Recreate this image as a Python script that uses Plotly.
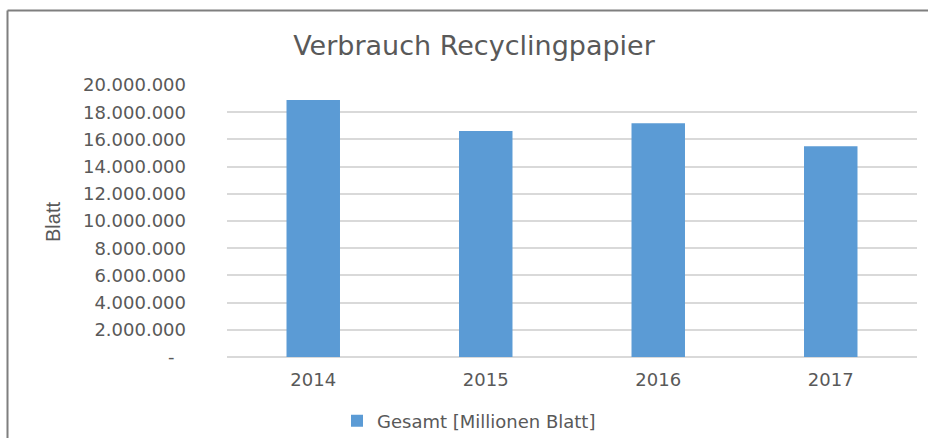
import plotly.graph_objects as go

# ---- data ----
years = ["2014", "2015", "2016", "2017"]
gesamt_blatt = [18900000, 16620000, 17180000, 15490000]
series_name = "Gesamt [Millionen Blatt]"
y_tickvals = [0, 2000000, 4000000, 6000000, 8000000, 10000000,
              12000000, 14000000, 16000000, 18000000, 20000000]
title_text = "Verbrauch Recyclingpapier"
y_title = "Blatt"

# ---- layout geometry ----
W, H = 928, 438
ML, MR, MT, MB = 227, 11, 85, 81
PW, PH = W - ML - MR, H - MT - MB


def px_x(x):
    return (x - ML) / PW


def px_y(y):
    return (H - MB - y) / PH


def fmt(v):
    return "-\u00a0\u00a0" if v == 0 else f"{v:,}".replace(",", ".")


y_ticktext = [fmt(v) for v in y_tickvals]

TEXT = "#595959"
GRID = "#D9D9D9"
BAR = "#5B9BD5"
FONT = "DejaVu Sans"

fig = go.Figure(
    go.Bar(
        x=years,
        y=gesamt_blatt,
        name=series_name,
        marker=dict(color=BAR, line=dict(width=0)),
        showlegend=True,
    )
)

fig.update_layout(
    width=W,
    height=H,
    margin=dict(l=ML, r=MR, t=MT, b=MB, pad=0, autoexpand=False),
    paper_bgcolor="white",
    plot_bgcolor="white",
    bargap=0.69,
    font=dict(family=FONT, color=TEXT, size=16),
    title=dict(
        text=title_text,
        x=474 / W,
        xanchor="center",
        y=1 - 46 / H,
        yanchor="middle",
        font=dict(family=FONT, size=27, color=TEXT),
    ),
    showlegend=True,
    legend=dict(
        orientation="h",
        x=px_x(469),
        xanchor="center",
        y=px_y(421),
        yanchor="middle",
        font=dict(family=FONT, size=18, color=TEXT),
        itemwidth=30,
        bgcolor="rgba(0,0,0,0)",
    ),
    xaxis=dict(
        type="category",
        showgrid=False,
        showline=False,
        zeroline=False,
        ticks="",
        ticklabelstandoff=10,
        tickfont=dict(family=FONT, size=18, color=TEXT),
    ),
    yaxis=dict(
        range=[0, 20000000],
        tickvals=y_tickvals,
        ticktext=y_ticktext,
        showgrid=True,
        gridcolor=GRID,
        gridwidth=2,
        zeroline=True,
        zerolinecolor=GRID,
        zerolinewidth=2,
        showline=False,
        ticks="",
        ticklabelstandoff=40,
        tickfont=dict(family=FONT, size=18, color=TEXT),
    ),
    annotations=[
        dict(
            text=y_title,
            xref="paper",
            yref="paper",
            x=px_x(53),
            y=px_y(222),
            xanchor="center",
            yanchor="middle",
            textangle=-90,
            showarrow=False,
            font=dict(family="Liberation Sans Narrow, Liberation Sans", size=20, color=TEXT),
        )
    ],
    shapes=[
        dict(type="line", xref="paper", yref="paper",
             x0=px_x(7.5), x1=px_x(W + 2), y0=px_y(10.5), y1=px_y(10.5),
             line=dict(color="#7F7F7F", width=2)),
        dict(type="line", xref="paper", yref="paper",
             x0=px_x(7.5), x1=px_x(7.5), y0=px_y(10.5), y1=px_y(H + 2),
             line=dict(color="#7F7F7F", width=2)),
    ],
)

fig.write_html(
    "out.html",
    config={"displayModeBar": False},
    post_script="document.body.style.margin='0';document.body.style.overflow='hidden';",
)
